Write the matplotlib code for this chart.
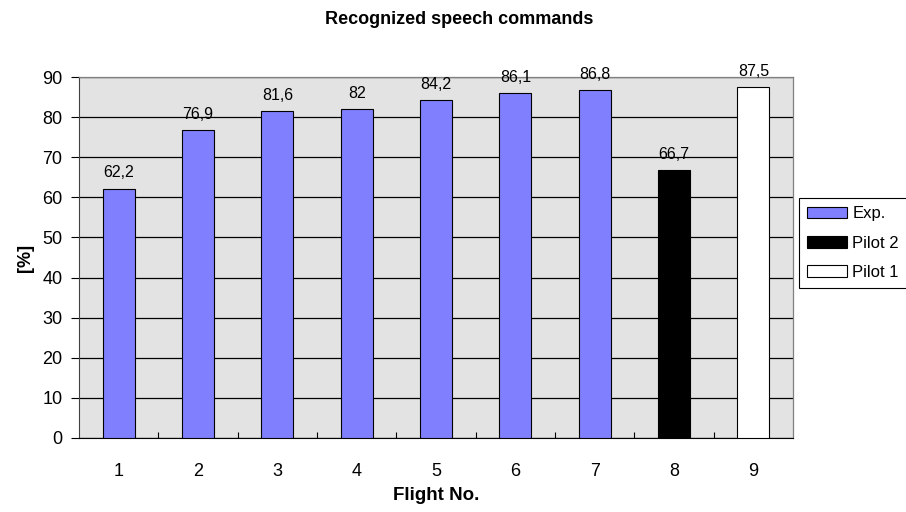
import matplotlib.pyplot as plt
import numpy as np

plt.rcParams['font.family'] = ['Liberation Sans', 'DejaVu Sans']

flights = ['1', '2', '3', '4', '5', '6', '7', '8', '9']
values = [62.2, 76.9, 81.6, 82.0, 84.2, 86.1, 86.8, 66.7, 87.5]
groups = ['Exp.', 'Exp.', 'Exp.', 'Exp.', 'Exp.', 'Exp.', 'Exp.', 'Pilot 2', 'Pilot 1']
colors = {'Exp.': '#8080FF', 'Pilot 2': '#000000', 'Pilot 1': '#FFFFFF'}

fig = plt.figure(figsize=(9.06, 5.12), dpi=100)
ax = fig.add_axes([79 / 906, 1 - 438 / 512, (793 - 79) / 906, (438 - 77) / 512])
ax.set_facecolor('#E3E3E3')

x = np.arange(len(flights))
ax.set_axisbelow(True)
ax.yaxis.grid(True, color='black', linewidth=0.9)
bars = ax.bar(x, values, width=0.4, color=[colors[g] for g in groups],
              edgecolor='black', linewidth=0.8, zorder=3)

# data labels with decimal comma
for xi, v in zip(x, values):
    lbl = ('%g' % v).replace('.', ',')
    ax.text(xi, v + 2.0, lbl, ha='center', va='bottom', fontsize=11.5, zorder=4)

ax.set_xlim(-0.5, len(flights) - 0.5)
ax.set_ylim(0, 90)
ax.set_yticks(range(0, 91, 10))
ax.set_xticks(x)
ax.set_xticklabels(flights)
ax.set_xticks(np.arange(0.5, len(flights) - 1, 1), minor=True)
ax.tick_params(axis='x', which='major', length=0, pad=18, labelsize=13)
ax.tick_params(axis='x', which='minor', direction='in', length=4, width=0.8)
ax.tick_params(axis='y', direction='out', length=6, width=0.8, labelsize=13, pad=6)

for side in ['top', 'right']:
    ax.spines[side].set_color('#808080')
    ax.spines[side].set_linewidth(0.9)
ax.spines['left'].set_color('#404040')
ax.spines['bottom'].set_color('black')

ax.set_xlabel('Flight No.', fontsize=13.5, fontweight='bold', labelpad=5)
ax.set_ylabel('[%]', fontsize=13, fontweight='bold', labelpad=6)
fig.text(459 / 906, 1 - 19 / 512, 'Recognized speech commands', ha='center', va='center',
         fontsize=13, fontweight='bold')

# legend, one entry per group
handles = []
for g in ['Exp.', 'Pilot 2', 'Pilot 1']:
    handles.append(plt.Rectangle((0, 0), 1, 1, facecolor=colors[g], edgecolor='black', linewidth=0.8))
leg = fig.legend(handles, ['Exp.', 'Pilot 2', 'Pilot 1'], loc='upper left',
                 bbox_to_anchor=(799 / 906, 1 - 198 / 512), fancybox=False,
                 edgecolor='black', framealpha=1, fontsize=12, handlelength=2.4,
                 handleheight=0.7, labelspacing=0.85, borderpad=0.5, handletextpad=0.3,
                 borderaxespad=0)
leg.get_frame().set_linewidth(0.8)

fig.savefig('out.png', dpi=100)
